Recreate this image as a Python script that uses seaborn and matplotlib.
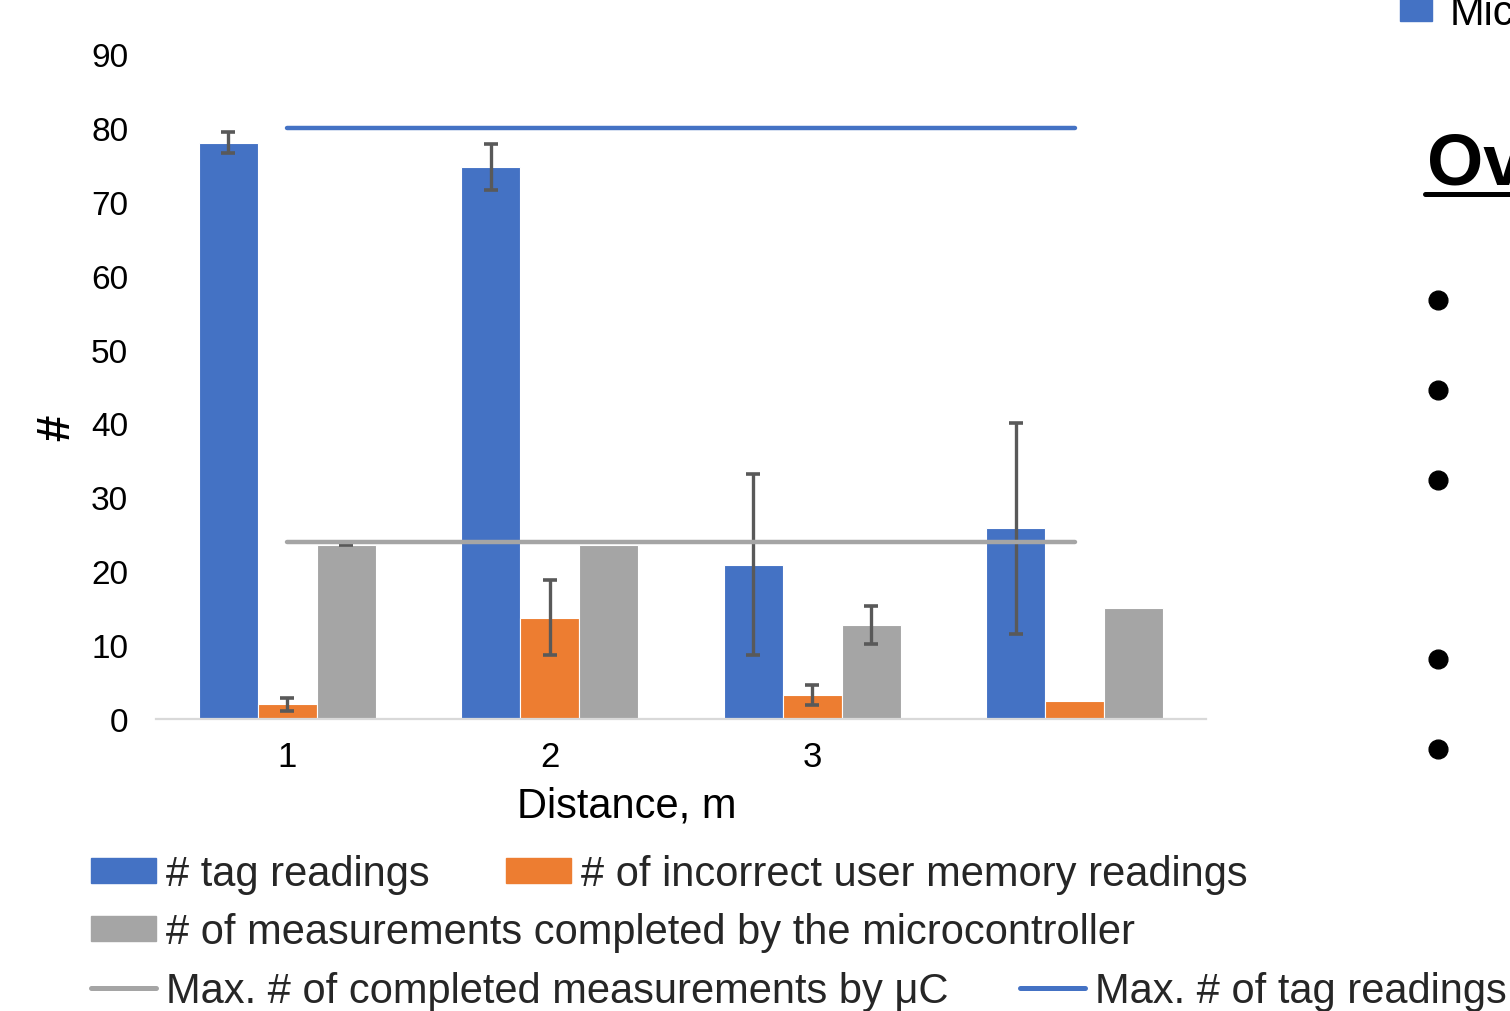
import numpy as np
import pandas as pd
import matplotlib
matplotlib.use("Agg")
import matplotlib.pyplot as plt
import seaborn as sns
from matplotlib.lines import Line2D
from matplotlib.patches import Patch, Rectangle

# ---- data -------------------------------------------------------------
distance_ticks = ["1", "2", "3", ""]
group_ids = [0, 1, 2, 3]

series_names = [
    "# tag readings",
    "# of incorrect user memory readings",
    "# of measurements completed by the microcontroller",
]
tag_readings = [78.0, 74.7, 20.9, 25.8]
tag_err = [1.4, 3.1, 12.3, 14.3]
incorrect_readings = [2.0, 13.7, 3.3, 2.5]
incorrect_err = [0.85, 5.1, 1.35, 0.0]
completed = [23.6, 23.6, 12.7, 15.0]
completed_err = [0.05, 0.0, 2.6, 0.0]

line_names = ["Max. # of completed measurements by μC", "Max. # of tag readings"]
max_completed = [24, 24, 24, 24]
max_tag = [80, 80, 80, 80]

bar_colors = ["#4472C4", "#ED7D31", "#A5A5A5"]
err_color = "#595959"

df = pd.DataFrame({
    "group": group_ids * 3,
    "value": tag_readings + incorrect_readings + completed,
    "series": [series_names[0]] * 4 + [series_names[1]] * 4 + [series_names[2]] * 4,
})

# ---- style ------------------------------------------------------------
sns.set_theme(style="white")
plt.rcParams["font.family"] = ["Liberation Sans", "DejaVu Sans"]

fig = plt.figure(figsize=(15.1, 10.12), dpi=100)
ax = fig.add_axes([0.1033, 0.2885, 0.6954, 0.6571])

sns.barplot(data=df, x="group", y="value", hue="series", hue_order=series_names,
            palette=bar_colors, saturation=1, width=0.675, gap=0, errorbar=None,
            edgecolor="white", linewidth=0.8, legend=False, ax=ax, zorder=2)

# error bars on each bar
for container, errs in zip(ax.containers, [tag_err, incorrect_err, completed_err]):
    for bar, e in zip(container, errs):
        if e > 0:
            ax.errorbar(bar.get_x() + bar.get_width() / 2, bar.get_height(), yerr=e,
                        fmt="none", ecolor=err_color, elinewidth=2.4,
                        capsize=5, capthick=2.6, zorder=3)

# reference maxima lines
sns.lineplot(x=group_ids, y=max_completed, color="#A5A5A5", lw=3.2,
             solid_capstyle="round", ax=ax, zorder=4)
sns.lineplot(x=group_ids, y=max_tag, color="#4472C4", lw=3.2,
             solid_capstyle="round", ax=ax, zorder=4)

ax.set_xlim(-0.5, 3.5)
ax.set_ylim(0, 90)
ax.set_yticks(np.arange(0, 91, 10))
ax.set_xticks(group_ids)
ax.set_xticklabels(distance_ticks)

for side in ["top", "left", "right"]:
    ax.spines[side].set_visible(False)
ax.spines["bottom"].set_color("#D9D9D9")
ax.spines["bottom"].set_linewidth(1.6)

ax.tick_params(axis="y", length=0, labelsize=24, pad=20, labelcolor="black")
ax.tick_params(axis="x", length=0, labelsize=25, pad=15, labelcolor="black")

ax.set_xlabel("Distance, m", fontsize=30, color="black")
ax.xaxis.set_label_coords(0.448, -0.1)
ax.set_ylabel("#", fontsize=34, fontweight="bold", color="black")
ax.yaxis.set_label_coords(-0.073, 0.44)

# ---- legend rows --------------------------------------------------------
leg_kw = dict(frameon=False, loc="center left", borderpad=0, borderaxespad=0,
              handlelength=1.55, handleheight=0.55, handletextpad=0.25,
              fontsize=30)

def add_item(handle, label, x_px, y_px):
    fig.legend([handle], [label], bbox_to_anchor=(x_px / 1510, 1 - y_px / 1012), **leg_kw)

add_item(Patch(color=bar_colors[0]), series_names[0], 91, 875)
add_item(Patch(color=bar_colors[1]), series_names[1], 506, 875)
add_item(Patch(color=bar_colors[2]), series_names[2], 91, 933)
add_item(Line2D([], [], color="#A5A5A5", lw=3.6, solid_capstyle="round"), line_names[0], 91, 992)
add_item(Line2D([], [], color="#4472C4", lw=3.6, solid_capstyle="round"), line_names[1], 1020, 992)

# ---- slide content at right edge -----------------------------------------
fig.add_artist(Rectangle((1400 / 1510, 1 - 22 / 1012), 32 / 1510, 30 / 1012,
                         transform=fig.transFigure, color="#4472C4"))
fig.text(1450 / 1510, 1 - 25 / 1012, "Microcontroller", fontsize=30,
         va="baseline", ha="left", color="black")
fig.text(1427 / 1510, 1 - 185 / 1012, "Overview", fontsize=52, fontweight="bold",
         va="baseline", ha="left", color="black")
fig.add_artist(Line2D([1425 / 1510, 1.05], [1 - 195 / 1012] * 2, color="black",
                      lw=3.6, transform=fig.transFigure))
for y_px in [301, 391, 481, 660, 750]:
    fig.add_artist(Line2D([1438 / 1510], [1 - y_px / 1012], marker="o", markersize=13.5,
                          color="black", transform=fig.transFigure))

fig.savefig("out.png", dpi=100)
